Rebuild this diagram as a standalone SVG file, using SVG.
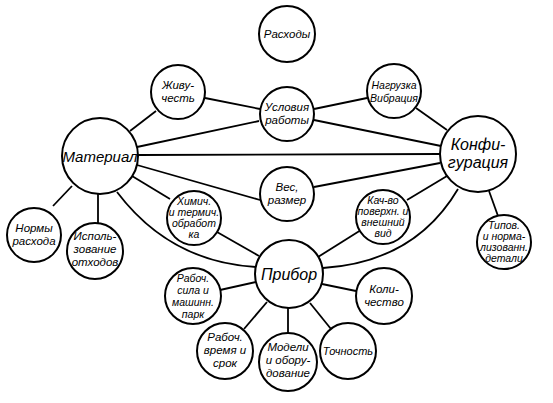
<svg xmlns="http://www.w3.org/2000/svg" width="553" height="403" viewBox="0 0 553 403">
<style>
.n{fill:#fff;stroke:#000;stroke-width:2}
.c{fill:none;stroke:#000;stroke-width:1.8}
text{font-family:"Liberation Sans","DejaVu Sans",sans-serif;font-style:italic;text-anchor:middle;fill:#000}
.s{font-size:11.5px}
.x{font-size:10.5px}
.b{font-size:16px}
</style>
<rect width="553" height="403" fill="#fff"/>
<g id="connectors">
<line class="c" x1="130" y1="131" x2="156" y2="111"/>
<line class="c" x1="205" y1="98" x2="260" y2="109"/>
<line class="c" x1="137" y1="147" x2="259" y2="121"/>
<line class="c" x1="314" y1="109" x2="367" y2="98"/>
<line class="c" x1="314" y1="120" x2="441" y2="146"/>
<line class="c" x1="416" y1="108" x2="447" y2="130"/>
<line class="c" x1="138" y1="155" x2="440" y2="154"/>
<line class="c" x1="137" y1="165" x2="260" y2="200"/>
<line class="c" x1="314" y1="187" x2="440" y2="163"/>
<line class="c" x1="132" y1="176" x2="170" y2="199"/>
<line class="c" x1="217" y1="232" x2="259" y2="256"/>
<line class="c" x1="407" y1="200" x2="447" y2="176"/>
<line class="c" x1="318" y1="257" x2="361" y2="230"/>
<path class="c" d="M117,192 Q170,262 256,267"/>
<path class="c" d="M458,189 Q415,262 323,268"/>
<line class="c" x1="72" y1="186" x2="53" y2="206"/>
<line class="c" x1="98" y1="194" x2="98" y2="223"/>
<line class="c" x1="489" y1="191" x2="498" y2="216"/>
<line class="c" x1="256" y1="282" x2="220" y2="290"/>
<line class="c" x1="322" y1="284" x2="356" y2="291"/>
<line class="c" x1="267" y1="302" x2="244" y2="329"/>
<line class="c" x1="288" y1="308" x2="288" y2="333"/>
<line class="c" x1="310" y1="303" x2="331" y2="329"/>
</g>
<g id="rashody"><circle class="n" cx="287" cy="34" r="28"/><text class="s" x="287" y="38">Расходы</text></g>
<g id="zhivuchest"><circle class="n" cx="178" cy="92" r="27"/><text class="s" x="178" y="89">Живу-</text><text class="s" x="178" y="102">честь</text></g>
<g id="usloviya"><circle class="n" cx="287" cy="114" r="27"/><text class="s" x="287" y="111">Условия</text><text class="s" x="287" y="124">работы</text></g>
<g id="nagruzka"><circle class="n" cx="394" cy="91" r="27"/><text class="x" x="394" y="89">Нагрузка</text><text class="x" x="394" y="102">Вибрация</text></g>
<g id="material"><circle class="n" cx="100" cy="156" r="38"/><text class="b" x="100" y="162" style="font-size:15px">Материал</text></g>
<g id="konfig"><circle class="n" cx="478" cy="154" r="38"/><text class="b" x="478" y="150">Конфи-</text><text class="b" x="478" y="168">гурация</text></g>
<g id="ves"><circle class="n" cx="287" cy="194" r="27"/><text class="s" x="287" y="191">Вес,</text><text class="s" x="287" y="204">размер</text></g>
<g id="himich"><circle class="n" cx="194" cy="218" r="27"/><text class="x" x="194" y="205">Химич.</text><text class="x" x="194" y="216">и термич.</text><text class="x" x="194" y="227">обработ</text><text class="x" x="194" y="238">ка</text></g>
<g id="kachvo"><circle class="n" cx="383" cy="217" r="27"/><text class="x" x="383" y="204">Кач-во</text><text class="x" x="383" y="215">поверхн. и</text><text class="x" x="383" y="226">внешний</text><text class="x" x="383" y="237">вид</text></g>
<g id="tipov"><circle class="n" cx="504" cy="242" r="27"/><text class="x" x="504" y="229">Типов.</text><text class="x" x="504" y="240">и норма-</text><text class="x" x="504" y="251">лизованн.</text><text class="x" x="504" y="262">детали</text></g>
<g id="normy"><circle class="n" cx="34" cy="235" r="27"/><text class="s" x="34" y="232">Нормы</text><text class="s" x="34" y="245">расхода</text></g>
<g id="ispolz"><circle class="n" cx="95" cy="251" r="28"/><text class="s" x="95" y="240">Исполь-</text><text class="s" x="95" y="253">зование</text><text class="s" x="95" y="266">отходов</text></g>
<g id="pribor"><circle class="n" cx="289" cy="274" r="34"/><text class="b" x="289" y="280">Прибор</text></g>
<g id="rabsila"><circle class="n" cx="193" cy="296" r="28"/><text class="x" x="193" y="282">Рабоч.</text><text class="x" x="193" y="294">сила и</text><text class="x" x="193" y="306">машинн.</text><text class="x" x="193" y="318">парк</text></g>
<g id="kolichestvo"><circle class="n" cx="384" cy="296" r="28"/><text class="s" x="384" y="293">Коли-</text><text class="s" x="384" y="306">чество</text></g>
<g id="rabvremya"><circle class="n" cx="225" cy="351" r="28"/><text class="s" x="225" y="341">Рабоч.</text><text class="s" x="225" y="354">время и</text><text class="s" x="225" y="367">срок</text></g>
<g id="modeli"><circle class="n" cx="288" cy="362" r="29"/><text class="s" x="288" y="351">Модели</text><text class="s" x="288" y="364">и обору-</text><text class="s" x="288" y="377">дование</text></g>
<g id="tochnost"><circle class="n" cx="348" cy="351" r="28"/><text class="s" x="348" y="355" style="font-size:11px">Точность</text></g>
</svg>
